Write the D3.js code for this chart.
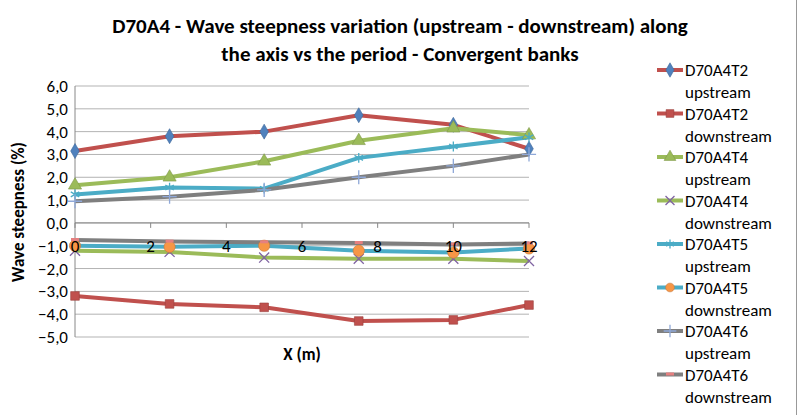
<!DOCTYPE html><html><head><meta charset="utf-8"><script src="https://cdn.jsdelivr.net/npm/d3@7"></script>
<style>body{margin:0;background:#fff}text{font-family:Calibri,Carlito,"Open Sans",sans-serif}</style></head><body><svg id="c" width="800" height="415"></svg><script>
const xs=[0,2.5,5,7.5,10,12];
const names=["D70A4T2 upstream","D70A4T2 downstream","D70A4T4 upstream","D70A4T4 downstream","D70A4T5 upstream","D70A4T5 downstream","D70A4T6 upstream","D70A4T6 downstream"];
const t2up=[3.15,3.8,4.0,4.72,4.3,3.25];
const t2down=[-3.2,-3.55,-3.7,-4.3,-4.25,-3.6];
const t4up=[1.65,2.0,2.7,3.6,4.15,3.85];
const t4down=[-1.22,-1.27,-1.52,-1.57,-1.57,-1.67];
const t5up=[1.25,1.55,1.5,2.85,3.35,3.75];
const t5down=[-1.0,-1.05,-1.0,-1.22,-1.3,-1.12];
const t6up=[0.95,1.15,1.45,2.0,2.5,3.0];
const t6down=[-0.75,-0.82,-0.85,-0.88,-0.95,-0.9];
const yTicks=[6,5,4,3,2,1,0,-1,-2,-3,-4,-5];
const xTicks=[0,2,4,6,8,10,12];
const series=[
{v:t2up,line:"#C0504D",m:"diamond",mc:"#4F81BD"},
{v:t2down,line:"#C0504D",m:"square",mc:"#C0504D"},
{v:t4up,line:"#9BBB59",m:"triangle",mc:"#9BBB59"},
{v:t4down,line:"#9BBB59",m:"x",mc:"#8064A2"},
{v:t5up,line:"#4BACC6",m:"star",mc:"#4BACC6"},
{v:t5down,line:"#4BACC6",m:"circle",mc:"#F79646"},
{v:t6up,line:"#7F7F7F",m:"plus",mc:"#8FA8D8"},
{v:t6down,line:"#7F7F7F",m:"dash",mc:"#E58080"}];
const svg=d3.select("#c");
svg.append("line").attr("x1",796.5).attr("x2",796.5).attr("y1",0).attr("y2",415).attr("stroke","#999");
const x=d3.scaleLinear().domain([0,12]).range([75,529]);
const y=d3.scaleLinear().domain([-5,6]).range([337,86]);
const g=svg.append("g");
yTicks.forEach(t=>{g.append("line").attr("x1",75).attr("x2",529).attr("y1",y(t)).attr("y2",y(t)).attr("stroke","#B3B3B3").attr("stroke-width",1);
g.append("text").attr("x",68).attr("y",y(t)+6).attr("text-anchor","end").attr("font-size",17).text(d3.format(".1f")(t).replace(".",","));});
g.append("line").attr("x1",75).attr("x2",75).attr("y1",86).attr("y2",337).attr("stroke","#888");
g.append("line").attr("x1",75).attr("x2",529).attr("y1",y(0)).attr("y2",y(0)).attr("stroke","#888");
xTicks.forEach(t=>{g.append("line").attr("x1",x(t)).attr("x2",x(t)).attr("y1",y(0)).attr("y2",y(0)+5).attr("stroke","#888");});
const line=d3.line().x((d,i)=>x(xs[i])).y(d=>y(d));
function marker(sel,type,c,s){
 const sy={diamond:d3.symbolDiamond,square:d3.symbolSquare,triangle:d3.symbolTriangle,circle:d3.symbolCircle,star:d3.symbolAsterisk,x:d3.symbolTimes,plus:d3.symbolCross}[type];
 if(type==="dash"){sel.append("rect").attr("x",-4).attr("y",-2).attr("width",8).attr("height",3).attr("fill",c);return;}
 if(type==="star"||type==="x"||type==="plus"){sel.append("path").attr("d",d3.symbol(type==="plus"?d3.symbolPlus:sy,s*0.9)).attr("fill","none").attr("stroke",c).attr("stroke-width",1.3);return;}
 sel.append("path").attr("d",d3.symbol(sy,s)).attr("fill",c).attr("stroke",d3.color(c).darker(0.6)).attr("stroke-width",0.6);
}
series.forEach(s=>{g.append("path").attr("d",line(s.v)).attr("fill","none").attr("stroke",s.line).attr("stroke-width",4).attr("stroke-linejoin","round");});
series.forEach(s=>{s.v.forEach((d,i)=>{const m=g.append("g").attr("transform",`translate(${x(xs[i])},${y(d)})`);marker(m,s.m,s.mc,s.m==="circle"?100:(s.m==="diamond"?65:75));});});
xTicks.forEach(t=>{g.append("text").attr("x",x(t)).attr("y",y(-1)+6).attr("text-anchor","middle").attr("font-size",17).text(t);});
svg.append("text").attr("x",400).attr("y",33).attr("text-anchor","middle").attr("font-size",21).attr("font-weight","bold").text("D70A4 - Wave steepness variation (upstream - downstream) along");
svg.append("text").attr("x",400).attr("y",61).attr("text-anchor","middle").attr("font-size",21).attr("font-weight","bold").text("the axis vs the period - Convergent banks");
svg.append("text").attr("transform","translate(24,212) rotate(-90)").attr("text-anchor","middle").attr("font-size",17).attr("font-weight","bold").text("Wave steepness (%)");
svg.append("text").attr("x",302).attr("y",360).attr("text-anchor","middle").attr("font-size",17).attr("font-weight","bold").text("X (m)");
const lg=svg.append("g");
series.forEach((s,i)=>{const yy=70+i*43.5;
 lg.append("line").attr("x1",657).attr("x2",683).attr("y1",yy).attr("y2",yy).attr("stroke",s.line).attr("stroke-width",4);
 const m=lg.append("g").attr("transform",`translate(670,${yy})`);marker(m,s.m,s.mc,60);
 const parts=names[i].split(" ");
 lg.append("text").attr("x",685).attr("y",yy+6).attr("font-size",17).text(parts[0]);
 lg.append("text").attr("x",685).attr("y",yy+28).attr("font-size",17).text(parts[1]);});
</script></body></html>
